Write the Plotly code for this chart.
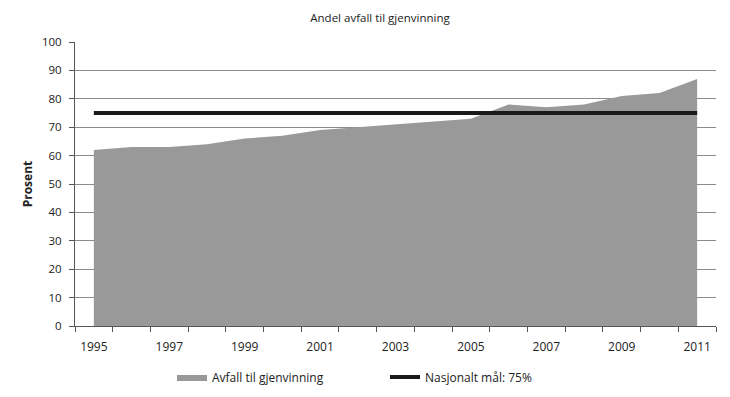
import plotly.graph_objects as go

years = [str(y) for y in range(1995, 2012)]
avfall = [62, 63, 63, 64, 66, 67, 69, 70, 71, 72, 73, 78, 77, 78, 81, 82, 87]
maal = [75] * len(years)
tick_labels = [y if (int(y) - 1995) % 2 == 0 else "" for y in years]

font = "Open Sans, Noto Sans, sans-serif"
W, H = 730, 397
OFF = 8  # default page body margin

fig = go.Figure()
fig.add_trace(go.Scatter(
    x=years, y=avfall, mode="lines", fill="tozeroy",
    line=dict(color="#999999", width=0), fillcolor="#999999",
    name="Avfall til gjenvinning",
))
fig.add_trace(go.Scatter(
    x=years, y=maal, mode="lines",
    line=dict(color="#1a1a1a", width=4),
    name="Nasjonalt mål: 75%",
))

fig.update_layout(
    width=W, height=H,
    margin=dict(l=75 - OFF, r=14 + OFF, t=42 - OFF, b=71 + OFF, autoexpand=False),
    paper_bgcolor="white", plot_bgcolor="white",
    font=dict(family=font, size=12, color="#222222"),
    title=dict(text="Andel avfall til gjenvinning", x=(380 - OFF) / W, xanchor="center",
               y=1 - (18 - OFF) / H, yanchor="middle", font=dict(size=11.5, color="#222222")),
    showlegend=True,
    legend=dict(orientation="h", xref="container", x=(172 - OFF) / W, xanchor="left",
                yref="container", y=1 - (377 - OFF) / H, yanchor="middle",
                font=dict(size=12), entrywidth=168, entrywidthmode="pixels",
                traceorder="normal"),
)
fig.update_xaxes(
    type="category", categoryorder="array", categoryarray=years,
    range=[-0.5, len(years) - 0.5], automargin=False,
    tickvals=years, ticktext=tick_labels,
    tickson="boundaries", ticks="outside", ticklen=5, tickcolor="#555555",
    ticklabelstandoff=10,
    showline=True, linecolor="#555555", linewidth=1,
    showgrid=False, zeroline=False, tickfont=dict(size=12),
)
fig.update_yaxes(
    range=[0, 100], dtick=10, ticks="outside", ticklen=5, tickcolor="#555555",
    automargin=False, ticklabelstandoff=5,
    showline=True, linecolor="#555555", linewidth=1,
    showgrid=True, gridcolor="#8c8c8c", gridwidth=1, zeroline=False,
    title=dict(text="<b>Prosent</b>", font=dict(size=12), standoff=6),
    tickfont=dict(size=11.5),
)

fig.write_html("out.html")
